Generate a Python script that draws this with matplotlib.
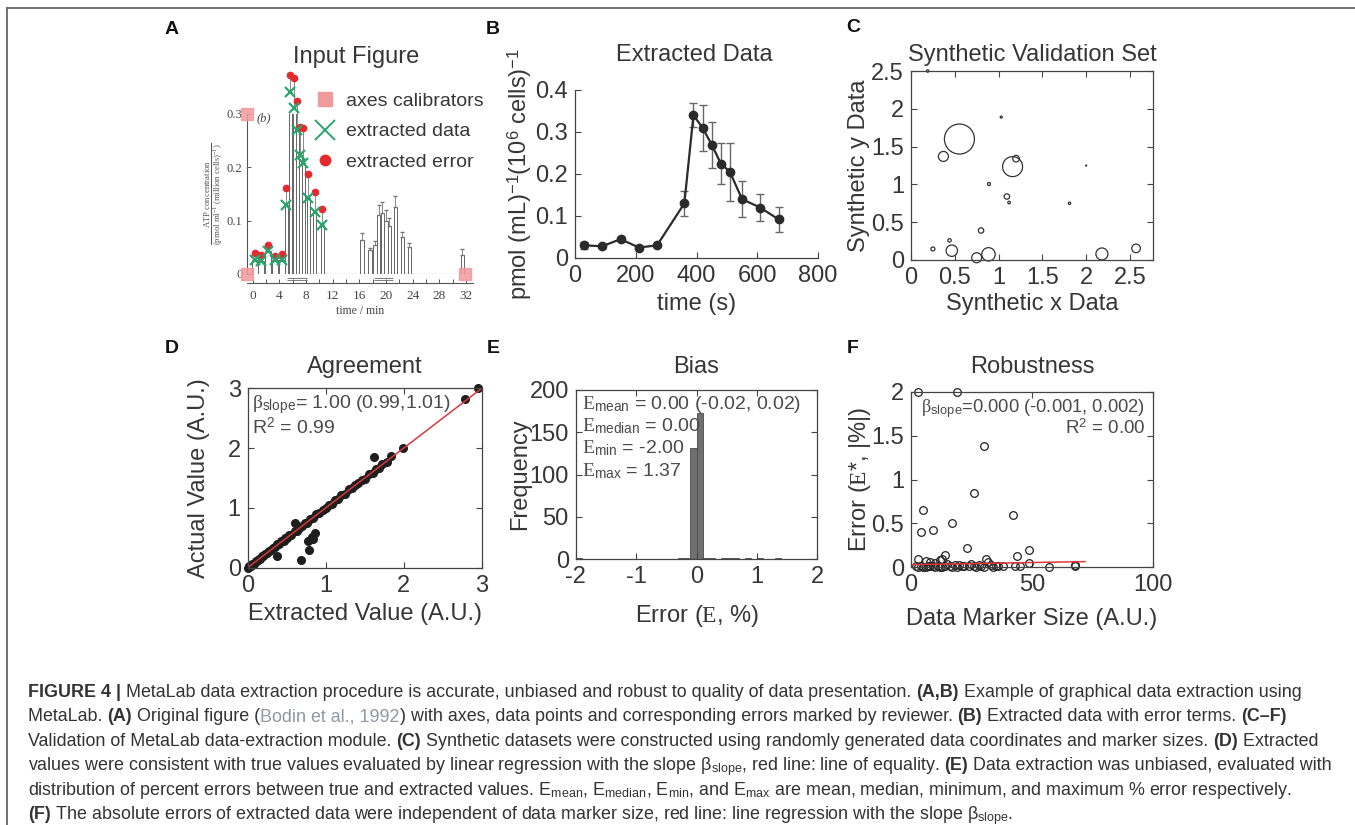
import numpy as np
import matplotlib
matplotlib.use('Agg')
import matplotlib.pyplot as plt
from matplotlib.lines import Line2D
from matplotlib.font_manager import FontProperties

plt.rcParams['font.family'] = ['Liberation Sans', 'DejaVu Sans']
plt.rcParams['mathtext.fontset'] = 'custom'
plt.rcParams['mathtext.rm'] = 'Liberation Serif'
plt.rcParams['mathtext.it'] = 'Liberation Serif:italic'
plt.rcParams['mathtext.sf'] = 'Liberation Sans'
plt.rcParams['mathtext.bf'] = 'Liberation Sans:bold'
plt.rcParams['axes.unicode_minus'] = False

# ---------------- data ----------------
# A: input figure (time in min, ATP concentration)
a_time = [0.35, 1.3, 2.3, 3.35, 4.35, 5.0, 5.6, 6.2, 6.65, 7.1, 7.6, 8.3, 9.3, 10.4]
a_value = [0.027, 0.024, 0.044, 0.026, 0.027, 0.129, 0.342, 0.311, 0.27, 0.223, 0.208, 0.142, 0.117, 0.092]
a_error = [0.013, 0.011, 0.010, 0.007, 0.010, 0.033, 0.031, 0.056, 0.055, 0.053, 0.065, 0.046, 0.037, 0.030]
a2_time = [16.4, 17.6, 18.35, 18.9, 19.45, 20.0, 20.5, 21.4, 22.45, 23.5, 31.45]
a2_value = [0.064, 0.045, 0.054, 0.11, 0.115, 0.10, 0.09, 0.125, 0.07, 0.05, 0.036]
a2_error = [0.012, 0.004, 0.008, 0.02, 0.02, 0.02, 0.015, 0.022, 0.008, 0.008, 0.01]
a_calib_x = [-0.9, -0.9, 31.9]
a_calib_y = [0.3, 0.0, 0.0]
a_stim = [(5.2, 8.2), (18.2, 21.0)]

# B: extracted data
b_time = [30, 90, 150, 210, 270, 360, 390, 420, 450, 480, 510, 550, 610, 670]
b_value = [0.03, 0.028, 0.045, 0.025, 0.03, 0.13, 0.34, 0.31, 0.27, 0.225, 0.205, 0.14, 0.12, 0.092]
b_err = [0.008, 0.004, 0.004, 0.004, 0.004, 0.03, 0.028, 0.055, 0.055, 0.048, 0.07, 0.043, 0.033, 0.029]

# C: synthetic validation set
c_x = [0.19, 0.553, 0.37, 1.16, 1.2, 1.03, 0.89, 1.095, 1.12, 1.81, 2.0, 0.80, 0.44, 0.25, 0.466, 0.75, 0.885, 2.18, 2.57]
c_y = [2.5, 1.6, 1.37, 1.235, 1.34, 1.89, 1.005, 0.84, 0.76, 0.75, 1.25, 0.39, 0.26, 0.146, 0.123, 0.03, 0.075, 0.08, 0.154]
c_marker = [1.2, 15, 5, 10, 3.3, 1.0, 1.5, 2.7, 1.3, 1.2, 0.5, 2.7, 1.7, 2.0, 5.7, 5.0, 6.7, 6.0, 4.3]

# D: agreement
d_extracted = [0.0, 0.02, 0.04, 0.06, 0.08, 0.1, 0.12, 0.14, 0.16, 0.18, 0.2, 0.22, 0.25, 0.27, 0.3,
               0.32, 0.35, 0.38, 0.4, 0.43, 0.46, 0.48, 0.5, 0.53, 0.56, 0.6, 0.63, 0.66, 0.7, 0.73,
               0.76, 0.8, 0.84, 0.88, 0.92, 0.96, 1.0, 1.04, 1.08, 1.12, 1.16, 1.2, 1.25, 1.3, 1.34,
               1.38, 1.42, 1.46, 1.5, 1.55, 1.6, 1.64, 1.68, 1.72, 1.78, 1.84, 1.99, 2.78, 2.95,
               0.38, 0.6, 0.68, 0.77, 0.78, 0.82, 0.84, 0.86, 1.62]
d_actual = [0.0, 0.03, 0.03, 0.07, 0.07, 0.11, 0.11, 0.15, 0.15, 0.19, 0.19, 0.23, 0.24, 0.28, 0.29,
            0.33, 0.34, 0.39, 0.39, 0.44, 0.45, 0.49, 0.49, 0.54, 0.55, 0.61, 0.62, 0.67, 0.69, 0.74,
            0.75, 0.81, 0.83, 0.89, 0.91, 0.97, 0.99, 1.05, 1.07, 1.13, 1.15, 1.21, 1.24, 1.31, 1.33,
            1.39, 1.41, 1.47, 1.49, 1.56, 1.59, 1.65, 1.67, 1.73, 1.77, 1.86, 2.0, 2.82, 3.0,
            0.2, 0.74, 0.13, 0.44, 0.3, 0.52, 0.48, 0.58, 1.85]
d_equality = [0, 3]

# E: bias histogram (bin centres, counts)
e_bin = [-1.95, -0.25, -0.15, -0.05, 0.05, 0.15, 0.25, 0.45, 0.55, 0.65, 0.85, 1.05, 1.35]
e_count = [1, 1, 2, 132, 173, 2, 1, 1, 1, 1, 1, 1, 1]

# F: robustness
f_size = [3, 19, 30, 26, 5, 17, 42, 4, 9, 23, 49, 44, 14, 3, 31, 12, 6, 8, 10, 13,
          15, 20, 25, 32, 35, 28, 22, 18, 2, 4, 5, 7, 9, 11, 13, 16, 19, 21, 24, 27,
          29, 33, 36, 3, 6, 8, 12, 14, 17, 26, 30, 43, 45, 49, 57, 68, 68, 38, 34, 10]
f_error = [2.0, 2.0, 1.38, 0.85, 0.65, 0.51, 0.6, 0.4, 0.43, 0.22, 0.2, 0.13, 0.14, 0.09, 0.1, 0.08, 0.07, 0.06, 0.05, 0.1,
           0.04, 0.03, 0.04, 0.06, 0.02, 0.03, 0.02, 0.03, 0.01, 0.02, 0.0, 0.01, 0.02, 0.01, 0.0, 0.01, 0.0, 0.02, 0.01, 0.0,
           0.02, 0.03, 0.01, 0.0, 0.0, 0.01, 0.0, 0.02, 0.0, 0.01, 0.0, 0.01, 0.01, 0.05, 0.0, 0.02, 0.03, 0.01, 0.0, 0.0]
f_fit_x = [0, 72]
f_fit_y = [0.03, 0.065]

# ---------------- layout helpers ----------------
W, H = 1355, 825
fig = plt.figure(figsize=(W / 100, H / 100), dpi=100)


def rect(l, t, r, b):
    return [l / W, 1 - b / H, (r - l) / W, (b - t) / H]


TXT = '#363636'
AX = '#444444'
NOTE = '#4a4a4a'


def style(ax, box=True):
    for s in ax.spines.values():
        s.set_color(AX)
        s.set_linewidth(0.9)
    if not box:
        ax.spines['top'].set_visible(False)
        ax.spines['right'].set_visible(False)
    ax.tick_params(direction='in', length=4, width=0.8, color=AX, labelcolor=TXT,
                   labelsize=17, top=box, right=box, pad=5)


def labels(ax, xl, yl, xl_y, yl_x, box):
    l, t, r, b = box
    ax.set_xlabel(xl, fontsize=17, color=TXT, va='center')
    ax.xaxis.set_label_coords(0.5, (b - xl_y) / (b - t))
    ax.set_ylabel(yl, fontsize=17, color=TXT, va='center')
    ax.yaxis.set_label_coords((yl_x - l) / (r - l), 0.5)


def title(txt, cx, cy):
    fig.text(cx / W, 1 - cy / H, txt, fontsize=17, color=TXT, ha='center', va='center')


def gfmt(vals):
    return ['%g' % v for v in vals]


# ---------------- panel A ----------------
boxA = (246.7, 114, 472.8, 274)
axA = fig.add_axes(rect(*boxA))
axA.set_xlim(-0.9, 33)
axA.set_ylim(0, 0.3)
axA.spines['top'].set_visible(False)
axA.spines['right'].set_visible(False)
axA.spines['bottom'].set_position(('outward', 6.5))
for s in ('left', 'bottom'):
    axA.spines[s].set_color('#555555')
    axA.spines[s].set_linewidth(0.8)
serif = 'Liberation Serif'
axA.set_xticks(range(0, 33, 4))
axA.set_xticks(range(0, 33, 2), minor=True)
axA.set_xticklabels([str(v) for v in range(0, 33, 4)], family=serif, fontsize=9.5, color='#444')
axA.set_yticks([0, 0.1, 0.2, 0.3])
axA.set_yticklabels(['0', '0.1', '0.2', '0.3'], family=serif, fontsize=9, color='#444')
axA.tick_params(direction='in', length=3, width=0.7, color='#555', which='both', pad=3)
axA.tick_params(axis='x', pad=5)
axA.hlines(0, -0.9, 32, color='#555', lw=0.8)
axA.bar(a_time[:5], a_value[:5], width=0.9, color='white', edgecolor='#666', linewidth=0.7, zorder=2)
axA.bar(a_time[5:], a_value[5:], width=0.45, color='white', edgecolor='#666', linewidth=0.7, zorder=2)
axA.errorbar(a_time, a_value, yerr=[np.zeros(len(a_error)), a_error], fmt='none',
             ecolor='#777', elinewidth=0.6, capsize=1.5, zorder=2, clip_on=False)
axA.bar(a2_time, a2_value, width=0.5, color='white', edgecolor='#666', linewidth=0.7, zorder=2)
axA.errorbar(a2_time, a2_value, yerr=[np.zeros(len(a2_error)), a2_error], fmt='none',
             ecolor='#777', elinewidth=0.6, capsize=1.5, zorder=2)
for s0, s1 in a_stim:
    axA.hlines([-0.008, -0.011], s0, s1, color='#666', lw=0.6, clip_on=False)
axA.plot(a_calib_x, a_calib_y, 's', color='#f19a9c', ms=9, alpha=0.85, clip_on=False, zorder=5)
axA.plot(a_time, np.add(a_value, a_error), 'o', color='#e52a2f', ms=4.5, clip_on=False, zorder=4)
axA.plot(a_time, a_value, 'x', color='#27a56b', ms=7, mew=1.6, clip_on=False, zorder=4)
axA.text(0.6, 0.292, '(b)', family=serif, style='italic', fontsize=9, color='#444', va='center')
axA.set_xlabel('time / min', family=serif, fontsize=8.5, color='#444', va='center')
axA.xaxis.set_label_coords(0.5, (274 - 311) / 160)
axA.set_ylabel(r'$\frac{\mathrm{ATP\ concentration}}{\mathrm{(pmol\ ml^{-1}\ (million\ cells)^{-1})}}$',
               fontsize=9, color='#555', va='center')
axA.yaxis.set_label_coords((214 - 246.7) / 226.1, 0.5)
handles = [Line2D([], [], ls='none', marker='s', color='#f19a9c', ms=10),
           Line2D([], [], ls='none', marker='x', color='#27a56b', ms=14, mew=1.4),
           Line2D([], [], ls='none', marker='o', color='#e52a2f', ms=7.5)]
axA.legend(handles, ['axes calibrators', 'extracted data', 'extracted error'],
           loc='upper left', bbox_to_anchor=(316 / W, 1 - 92 / H), bbox_transform=fig.transFigure,
           frameon=False, fontsize=14, handlelength=0.9, handletextpad=0.65,
           labelspacing=0.68, borderpad=0, borderaxespad=0, labelcolor=TXT)
title('Input Figure', 356, 57)

# ---------------- panel B ----------------
boxB = (575, 90, 818, 258)
axB = fig.add_axes(rect(*boxB))
style(axB, box=False)
axB.errorbar(b_time, b_value, yerr=b_err, fmt='-o', color='#2b2b2b', ecolor='#666',
             elinewidth=1.0, capsize=3, ms=6, lw=1.6, clip_on=False)
axB.set_xlim(0, 800)
axB.set_ylim(0, 0.4)
axB.set_xticks([0, 200, 400, 600, 800])
axB.set_yticks([0, 0.1, 0.2, 0.3, 0.4])
axB.set_yticklabels(gfmt([0, 0.1, 0.2, 0.3, 0.4]))
labels(axB, 'time (s)', r'pmol (mL)$^{\mathsf{-1}}$(10$^{\mathsf{6}}$ cells)$^{\mathsf{-1}}$', 304, 520, boxB)
title('Extracted Data', 694, 55)

# ---------------- panel C ----------------
boxC = (911, 71, 1152.7, 260)
axC = fig.add_axes(rect(*boxC))
style(axC)
axC.scatter(c_x, c_y, s=(2 * np.array(c_marker) * 0.72) ** 2, facecolors='none',
            edgecolors='#333', linewidths=0.9, clip_on=False)
axC.set_xlim(0, 2.76)
axC.set_ylim(0, 2.5)
ct = [0, 0.5, 1, 1.5, 2, 2.5]
axC.set_xticks(ct)
axC.set_xticklabels(gfmt(ct))
axC.set_yticks(ct)
axC.set_yticklabels(gfmt(ct))
labels(axC, 'Synthetic x Data', 'Synthetic y Data', 304, 859, boxC)
title('Synthetic Validation Set', 1032, 55)

# ---------------- panel D ----------------
boxD = (247.7, 388.3, 481.7, 567.7)
axD = fig.add_axes(rect(*boxD))
style(axD)
axD.plot(d_extracted, d_actual, 'o', color='#1e1e1e', ms=5.5, clip_on=False)
axD.plot(d_equality, d_equality, color='#d9383a', lw=1.1)
axD.set_xlim(0, 3)
axD.set_ylim(0, 3)
axD.set_xticks([0, 1, 2, 3])
axD.set_yticks([0, 1, 2, 3])
axD.text(0.017, 0.907, r'$\mathrm{\beta}_{\mathsf{slope}}$= 1.00 (0.99,1.01)', transform=axD.transAxes,
         fontsize=14, color=NOTE, va='center')
axD.text(0.017, 0.784, r'R$^{\mathsf{2}}$ = 0.99', transform=axD.transAxes,
         fontsize=14, color=NOTE, va='center')
labels(axD, 'Extracted Value (A.U.)', 'Actual Value (A.U.)', 614, 199, boxD)
title('Agreement', 365, 367)

# ---------------- panel E ----------------
boxE = (575.7, 390, 817.3, 559.3)
axE = fig.add_axes(rect(*boxE))
style(axE)
axE.bar(e_bin, e_count, width=0.1, color='#707070', edgecolor='#4a4a4a', linewidth=0.6)
axE.set_xlim(-2, 2)
axE.set_ylim(0, 200)
axE.set_xticks([-2, -1, 0, 1, 2])
axE.set_xticklabels(gfmt([-2, -1, 0, 1, 2]))
axE.set_yticks([0, 50, 100, 150, 200])
for txt, yy in [(r'$\mathrm{E}_{\mathsf{mean}}$ = 0.00 (-0.02, 0.02)', 0.912),
                (r'$\mathrm{E}_{\mathsf{median}}$ = 0.00', 0.784),
                (r'$\mathrm{E}_{\mathsf{min}}$ = -2.00', 0.656),
                (r'$\mathrm{E}_{\mathsf{max}}$ = 1.37', 0.518)]:
    axE.text(0.025, yy, txt, transform=axE.transAxes, fontsize=14, color=NOTE, va='center')
labels(axE, r'Error ($\mathrm{E}$, %)', 'Frequency', 616, 520, boxE)
title('Bias', 696, 367)

# ---------------- panel F ----------------
boxF = (911, 391.7, 1152.7, 567.3)
axF = fig.add_axes(rect(*boxF))
style(axF)
axF.plot(f_size, f_error, 'o', mfc='none', mec='#222', ms=5.5, mew=0.9, clip_on=False)
axF.plot(f_fit_x, f_fit_y, color='#e0383a', lw=1.1)
axF.set_xlim(0, 100)
axF.set_ylim(0, 2)
axF.set_xticks([0, 50, 100])
ft = [0, 0.5, 1, 1.5, 2]
axF.set_yticks(ft)
axF.set_yticklabels(gfmt(ft))
axF.text(0.04, 0.905, r'$\mathrm{\beta}_{\mathsf{slope}}$=0.000 (-0.001, 0.002)', transform=axF.transAxes,
         fontsize=13.2, color=NOTE, va='center')
axF.text(0.97, 0.79, r'R$^{\mathsf{2}}$ = 0.00', transform=axF.transAxes,
         fontsize=13.5, color=NOTE, va='center', ha='right')
labels(axF, 'Data Marker Size (A.U.)', r'Error ($\mathrm{E}$*, |%|)', 619, 860, boxF)
title('Robustness', 1032, 367)

# ---------------- panel letters ----------------
for letter, px, py in [('A', 172, 30), ('B', 493, 30), ('C', 853, 28),
                       ('D', 172, 348), ('E', 493, 348), ('F', 853, 348)]:
    fig.text(px / W, 1 - py / H, letter, fontsize=14, fontweight='bold', color='#111',
             ha='center', va='center')

# ---------------- frame ----------------
fig.add_artist(Line2D([7 / W, 1], [1 - 8 / H, 1 - 8 / H], color='#666', lw=1.3))
fig.add_artist(Line2D([7 / W, 7 / W], [0, 1 - 8 / H], color='#666', lw=1.3))

# ---------------- caption ----------------
beta = '\u03b2'
caption = [
    [("FIGURE 4 | ", 'b'), ("MetaLab data extraction procedure is accurate, unbiased and robust to quality of data presentation. ", 'n'),
     ("(A,B)", 'b'), (" Example of graphical data extraction using", 'n')],
    [("MetaLab. ", 'n'), ("(A)", 'b'), (" Original figure (", 'n'), ("Bodin et al., 1992", 'g'),
     (") with axes, data points and corresponding errors marked by reviewer. ", 'n'), ("(B)", 'b'),
     (" Extracted data with error terms. ", 'n'), ("(C\u2013F)", 'b')],
    [("Validation of MetaLab data-extraction module. ", 'n'), ("(C)", 'b'),
     (" Synthetic datasets were constructed using randomly generated data coordinates and marker sizes. ", 'n'),
     ("(D)", 'b'), (" Extracted", 'n')],
    [("values were consistent with true values evaluated by linear regression with the slope " + beta
      + r"$_{\mathsf{slope}}$, red line: line of equality. ", 'n'),
     ("(E)", 'b'), (" Data extraction was unbiased, evaluated with", 'n')],
    [(r"distribution of percent errors between true and extracted values. E$_{\mathsf{mean}}$, E$_{\mathsf{median}}$, "
      r"E$_{\mathsf{min}}$, and E$_{\mathsf{max}}$ are mean, median, minimum, and maximum % error respectively.", 'n')],
    [("(F)", 'b'), (" The absolute errors of extracted data were independent of data marker size, red line: "
                    "line regression with the slope " + beta + r"$_{\mathsf{slope}}$.", 'n')],
]
cap_size = 12.9
fp_n = FontProperties(family='Liberation Sans', size=cap_size)
fp_b = FontProperties(family='Liberation Sans', size=cap_size, weight='bold')
renderer = fig.canvas.get_renderer()


def seg_width(s, fp):
    ismath = s.count('$') >= 2
    w1 = renderer.get_text_width_height_descent(s + '|', fp, ismath=ismath)[0]
    w2 = renderer.get_text_width_height_descent('|', fp, ismath=False)[0]
    return w1 - w2


baselines = [697, 721, 746, 770, 795, 819]
for line, yb in zip(caption, baselines):
    x = 28.0
    for s, kind in line:
        fp = fp_b if kind == 'b' else fp_n
        col = '#8d99a4' if kind == 'g' else '#333333'
        fig.text(x / W, 1 - yb / H, s, fontproperties=fp, color=col, va='baseline', ha='left')
        x += seg_width(s, fp)

fig.savefig('out.png', dpi=100)
